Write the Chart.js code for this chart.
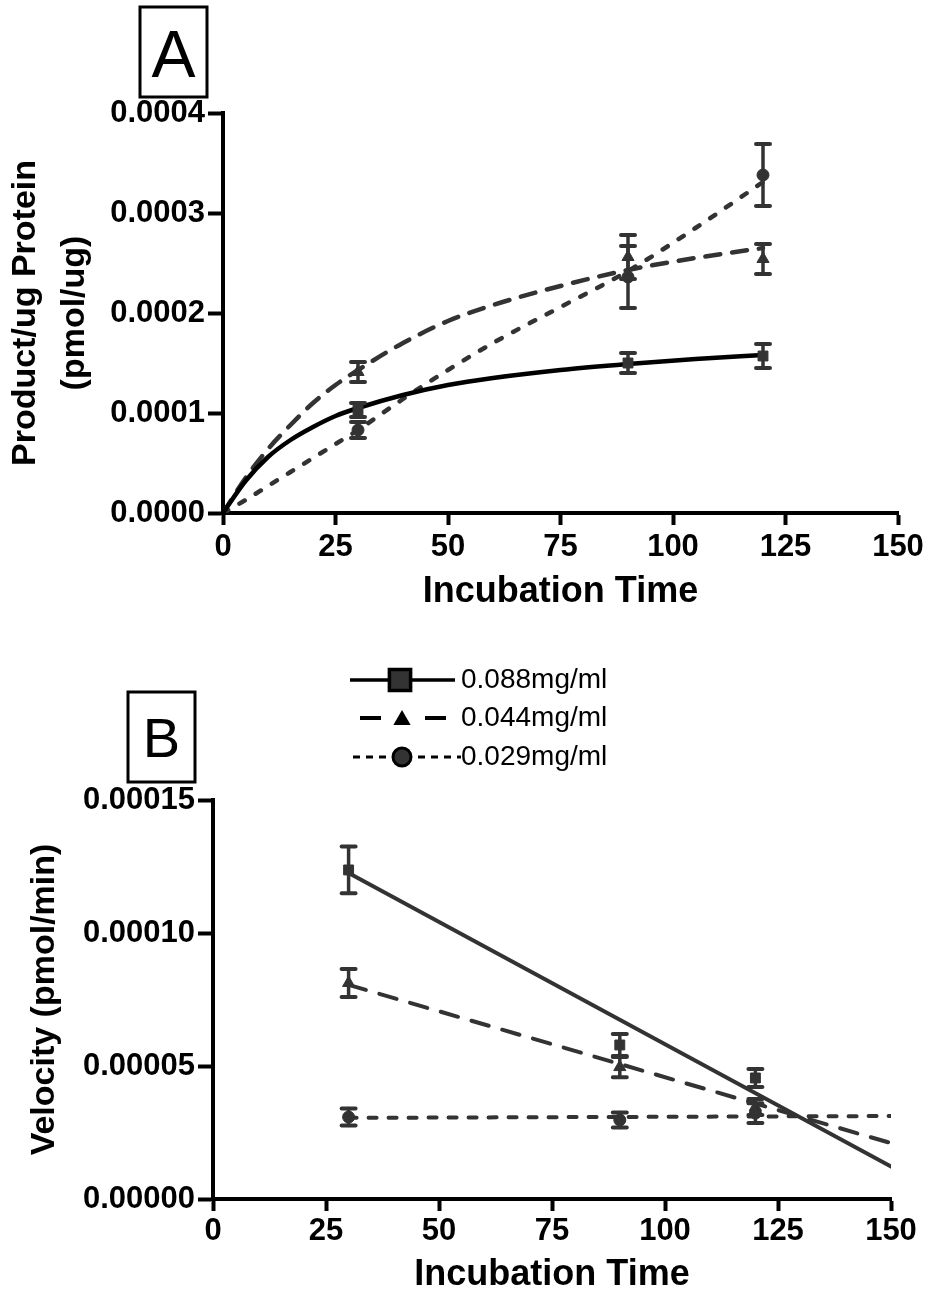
<!DOCTYPE html>
<html>
<head>
<meta charset="utf-8">
<script src="https://cdn.jsdelivr.net/npm/chart.js@4.4.1/dist/chart.umd.min.js"></script>
<style>
  body { margin: 0; background: #fff; }
  #wrapA { position: absolute; left: 0; top: 0; }
  #wrapB { position: absolute; left: 0; top: 640px; }
</style>
</head>
<body>
<div id="wrapA"><canvas id="chartA" width="929" height="640"></canvas></div>
<div id="wrapB"><canvas id="chartB" width="929" height="657"></canvas></div>
<script>
const FONT = "'Liberation Sans', Arial, sans-serif";
const INK = '#333333';

// shared
const seriesLabels = ['0.088mg/ml', '0.044mg/ml', '0.029mg/ml'];
const sampleTimes = [30, 90, 120];
const xTickValues = [0, 25, 50, 75, 100, 125, 150];

// Panel A - product per ug protein (means +/- error)
const productA088 = [0.000103, 0.000150, 0.000157];
const errorA088 = [0.000007, 0.000010, 0.000012];
const productA044 = [0.000141, 0.000256, 0.000254];
const errorA044 = [0.000010, 0.000022, 0.000015];
const productA029 = [0.000083, 0.000236, 0.000338];
const errorA029 = [0.000008, 0.000031, 0.000031];

// Panel A - fitted curves
const fitTimesA = [0, 5, 10, 15, 20, 25, 30, 40, 50, 60, 75, 90, 105, 120];
const fitA088 = [0, 0.000032, 0.000056, 0.000073, 0.000086, 0.000097, 0.000105, 0.000118, 0.000128, 0.000135, 0.000143, 0.000149, 0.000154, 0.000158];
const fitA044 = [0, 0.000035, 0.000064, 0.000088, 0.000110, 0.000128, 0.000143, 0.000170, 0.000192, 0.000208, 0.000227, 0.000243, 0.000255, 0.000265];
const fitA029 = [0, 0.000013, 0.000027, 0.000041, 0.000055, 0.000069, 0.000083, 0.000114, 0.000143, 0.000170, 0.000206, 0.000242, 0.000285, 0.000331];

const yTickValuesA = [0, 0.0001, 0.0002, 0.0003, 0.0004];
const yTickLabelsA = ['0.0000', '0.0001', '0.0002', '0.0003', '0.0004'];

// Panel B - velocity (means +/- error)
const velocityB088 = [0.0001237, 0.0000579, 0.0000455];
const errorB088 = [0.0000088, 0.0000041, 0.0000034];
const velocityB044 = [0.0000812, 0.0000496, 0.0000346];
const errorB044 = [0.0000053, 0.0000038, 0.0000030];
const velocityB029 = [0.0000308, 0.0000297, 0.0000323];
const errorB029 = [0.0000032, 0.0000028, 0.0000037];

// Panel B - regression lines
const lineTimesB = [30, 150];
const lineB088 = [0.0001226, 0.0000122];
const lineB044 = [0.0000805, 0.0000210];
const lineB029 = [0.0000305, 0.0000312];

const yTickValuesB = [0, 0.00005, 0.0001, 0.00015];
const yTickLabelsB = ['0.00000', '0.00005', '0.00010', '0.00015'];

function pts(xs, ys) {
  return xs.map((x, i) => ({ x: x, y: ys[i] }));
}

// vertical error bars with caps
const errorBars = {
  id: 'errorBars',
  afterDatasetsDraw(chart) {
    const ctx = chart.ctx;
    const yScale = chart.scales.y;
    chart.data.datasets.forEach((ds, di) => {
      if (!ds.errors) return;
      const meta = chart.getDatasetMeta(di);
      ctx.save();
      ctx.strokeStyle = INK;
      ctx.lineCap = 'round';
      meta.data.forEach((pt, i) => {
        const v = ds.data[i].y;
        const e = ds.errors[i];
        const top = yScale.getPixelForValue(v + e);
        const bot = yScale.getPixelForValue(v - e);
        ctx.lineWidth = 3.5;
        ctx.beginPath();
        ctx.moveTo(pt.x, top);
        ctx.lineTo(pt.x, bot);
        ctx.stroke();
        ctx.lineWidth = 4;
        ctx.beginPath();
        ctx.moveTo(pt.x - 7, top); ctx.lineTo(pt.x + 7, top);
        ctx.moveTo(pt.x - 7, bot); ctx.lineTo(pt.x + 7, bot);
        ctx.stroke();
      });
      ctx.restore();
    });
  }
};

// boxed panel letter
function panelLetter(letter, box, size, baseline) {
  return {
    id: 'panel' + letter,
    afterDraw(chart) {
      const ctx = chart.ctx;
      ctx.save();
      ctx.strokeStyle = '#000';
      ctx.lineWidth = 3;
      ctx.strokeRect(box[0], box[1], box[2], box[3]);
      ctx.fillStyle = '#000';
      ctx.font = size + 'px ' + FONT;
      ctx.textAlign = 'center';
      ctx.textBaseline = 'alphabetic';
      ctx.fillText(letter, box[0] + box[2] / 2, baseline);
      ctx.restore();
    }
  };
}

// legend drawn above panel B
const legendRows = {
  id: 'legendRows',
  afterDraw(chart) {
    const ctx = chart.ctx;
    const h = Chart.helpers;
    ctx.save();
    ctx.strokeStyle = '#000';

    // row 1 - solid + square
    ctx.lineWidth = 3.5;
    ctx.setLineDash([]);
    ctx.beginPath(); ctx.moveTo(350, 40); ctx.lineTo(455, 40); ctx.stroke();
    ctx.fillStyle = INK;
    ctx.strokeStyle = '#000';
    h.drawPoint(ctx, { pointStyle: 'rect', radius: 15, borderWidth: 2, rotation: 0 }, 400, 40);

    // row 2 - dashes + triangle
    ctx.lineWidth = 4;
    ctx.beginPath();
    ctx.moveTo(360, 78); ctx.lineTo(381, 78);
    ctx.moveTo(425, 78); ctx.lineTo(446, 78);
    ctx.stroke();
    ctx.fillStyle = '#000';
    h.drawPoint(ctx, { pointStyle: 'triangle', radius: 10, borderWidth: 0, rotation: 0 }, 402, 80);

    // row 3 - short dashes + circle
    ctx.lineWidth = 3;
    ctx.setLineDash([7, 6]);
    ctx.beginPath(); ctx.moveTo(353, 117); ctx.lineTo(461, 117); ctx.stroke();
    ctx.setLineDash([]);
    ctx.fillStyle = INK;
    h.drawPoint(ctx, { pointStyle: 'circle', radius: 9, borderWidth: 2, rotation: 0 }, 402, 117);

    ctx.fillStyle = '#000';
    ctx.font = '28px ' + FONT;
    ctx.textAlign = 'left';
    ctx.textBaseline = 'middle';
    ctx.fillText(seriesLabels[0], 461, 40);
    ctx.fillText(seriesLabels[1], 461, 78);
    ctx.fillText(seriesLabels[2], 461, 117);
    ctx.restore();
  }
};

function makeScales(o) {
  return {
    x: {
      type: 'linear', min: 0, max: 150,
      afterBuildTicks: s => { s.ticks = xTickValues.map(v => ({ value: v })); },
      ticks: {
        callback: v => String(v),
        font: { family: FONT, size: 31, weight: 'bold' },
        color: '#000', padding: o.xPad, maxRotation: 0, autoSkip: false
      },
      grid: { drawOnChartArea: false, drawTicks: true, tickLength: 12, tickWidth: 4, tickColor: '#000' },
      border: { display: true, width: 4, color: '#000' },
      title: {
        display: true, text: 'Incubation Time', color: '#000',
        font: { family: FONT, size: 36, weight: 'bold' },
        padding: { top: 0, bottom: o.xTitlePad }
      },
      afterFit: s => { s.height = o.xHeight; }
    },
    y: {
      type: 'linear', min: o.yMin, max: o.yMax,
      afterBuildTicks: s => { s.ticks = o.yTickValues.map(v => ({ value: v })); },
      ticks: {
        callback: (v, i) => o.yTickLabels[i],
        font: { family: FONT, size: 31, weight: 'bold' },
        color: '#000', padding: 3
      },
      grid: { drawOnChartArea: false, drawTicks: true, tickLength: 15, tickWidth: 4, tickColor: '#000' },
      border: { display: true, width: 4, color: '#000' },
      title: {
        display: true, text: o.yTitle, color: '#000',
        font: { family: FONT, size: o.yTitleSize, weight: 'bold', lineHeight: o.yTitleLH },
        padding: { top: o.yTitlePad, bottom: 0 }
      },
      afterFit: s => { s.width = o.yWidth; }
    }
  };
}

function pointSet(data, errors, style, radius) {
  return {
    data: data, errors: errors, showLine: false,
    pointStyle: style, pointRadius: radius,
    pointBackgroundColor: INK, pointBorderColor: INK, pointBorderWidth: 1
  };
}

function lineSet(data, color, width, dash, smooth) {
  return {
    data: data, showLine: true, pointRadius: 0,
    borderColor: color, borderWidth: width, borderDash: dash,
    borderCapStyle: 'round', fill: false,
    cubicInterpolationMode: smooth ? 'monotone' : 'default', tension: 0
  };
}

const common = {
  responsive: false,
  animation: false,
  devicePixelRatio: 1,
  events: [],
  plugins: { legend: { display: false }, tooltip: { enabled: false } }
};

new Chart(document.getElementById('chartA'), {
  type: 'line',
  data: {
    datasets: [
      pointSet(pts(sampleTimes, productA088), errorA088, 'rect', 7),
      pointSet(pts(sampleTimes, productA044), errorA044, 'triangle', 7),
      pointSet(pts(sampleTimes, productA029), errorA029, 'circle', 6),
      lineSet(pts(fitTimesA, fitA088), '#000', 4.5, [], true),
      lineSet(pts(fitTimesA, fitA044), INK, 4.5, [15, 12], true),
      lineSet(pts(fitTimesA, fitA029), INK, 4.5, [6, 13], true)
    ]
  },
  options: Object.assign({}, common, {
    layout: { padding: { top: 113, right: 31, left: 0, bottom: 0 } },
    scales: makeScales({
      xPad: 4, xTitlePad: 26, xHeight: 127,
      yMin: 0, yMax: 0.0004, yTickValues: yTickValuesA, yTickLabels: yTickLabelsA,
      yTitle: ['Product/ug Protein', '(pmol/ug)'], yTitleSize: 34, yTitleLH: 1.45, yTitlePad: 1,
      yWidth: 223
    })
  }),
  plugins: [errorBars, panelLetter('A', [140, 7, 67, 90], 66, 77)]
});

new Chart(document.getElementById('chartB'), {
  type: 'line',
  data: {
    datasets: [
      pointSet(pts(sampleTimes, velocityB088), errorB088, 'rect', 7),
      pointSet(pts(sampleTimes, velocityB044), errorB044, 'triangle', 7),
      pointSet(pts(sampleTimes, velocityB029), errorB029, 'circle', 6),
      lineSet(pts(lineTimesB, lineB088), INK, 4, [], false),
      lineSet(pts(lineTimesB, lineB044), INK, 4, [18, 14], false),
      lineSet(pts(lineTimesB, lineB029), INK, 4, [8, 12], false)
    ]
  },
  options: Object.assign({}, common, {
    layout: { padding: { top: 160, right: 38, left: 0, bottom: 0 } },
    scales: makeScales({
      xPad: 2, xTitlePad: 0, xHeight: 98,
      yMin: 0, yMax: 0.00015, yTickValues: yTickValuesB, yTickLabels: yTickLabelsB,
      yTitle: 'Velocity (pmol/min)', yTitleSize: 34, yTitleLH: 1.2, yTitlePad: 24,
      yWidth: 213
    })
  }),
  plugins: [errorBars, legendRows, panelLetter('B', [128, 52, 67, 90], 56, 117)]
});
</script>
</body>
</html>
